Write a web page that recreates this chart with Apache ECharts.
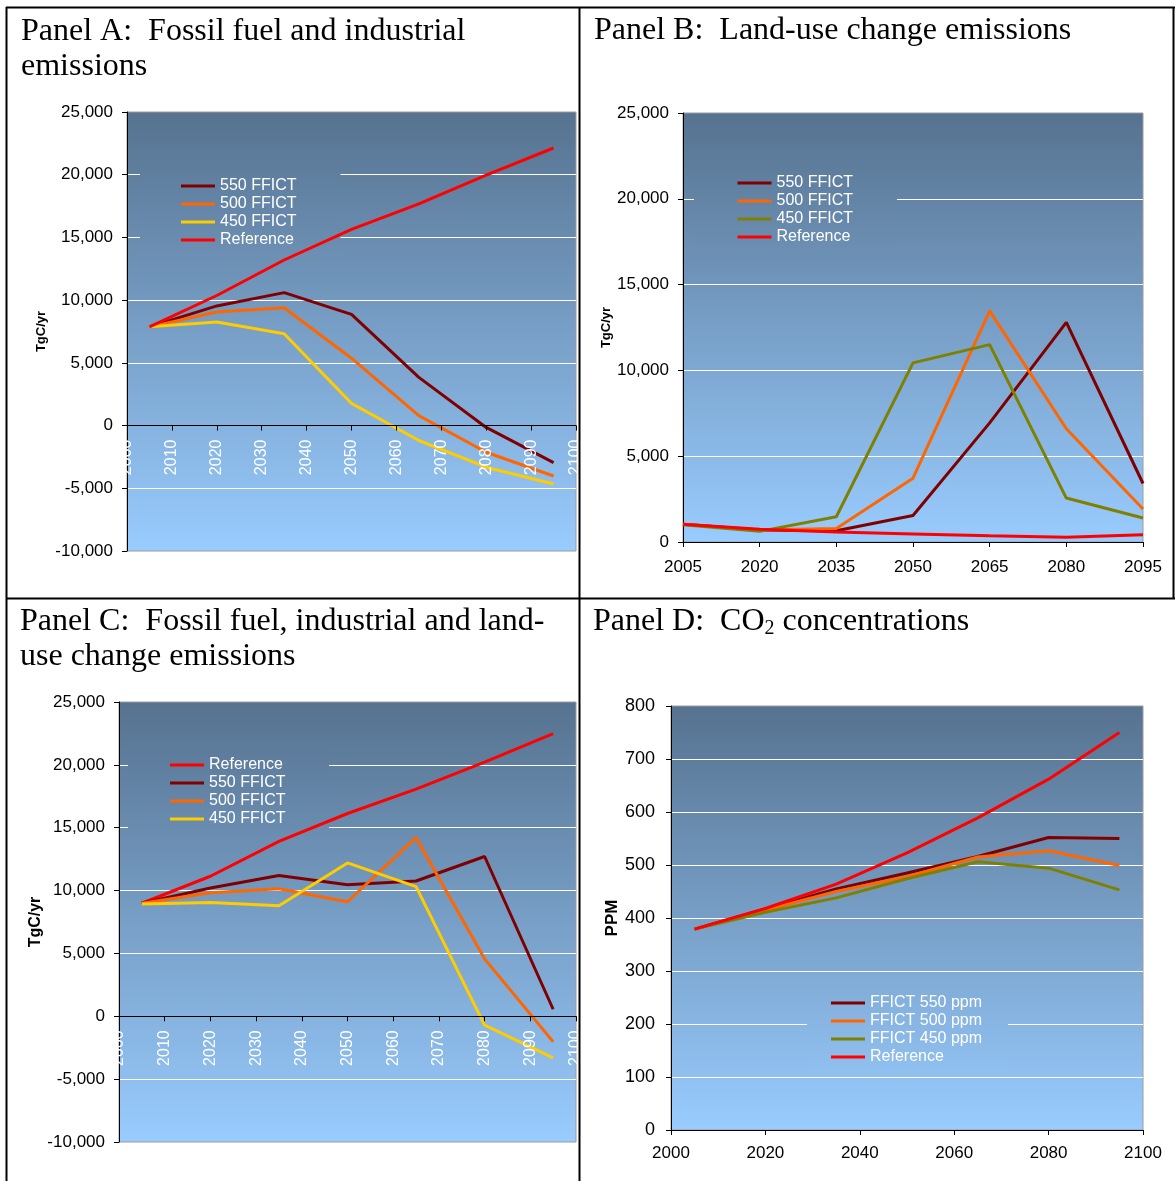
<!DOCTYPE html>
<html><head><meta charset="utf-8">
<script src="https://cdn.jsdelivr.net/npm/echarts@6.0.0/dist/echarts.min.js"></script>
<style>html,body{margin:0;padding:0;background:#fff}#c{width:1175px;height:1181px}</style>
</head><body><div id="c"></div>
<script>
// ---- data ----
const years = [2005, 2020, 2035, 2050, 2065, 2080, 2095];

// Panel A: fossil fuel and industrial emissions (TgC/yr)
const a550 = [7870, 9540, 10600, 8870, 3840, -150, -2960];
const a500 = [7870, 9050, 9390, 5370, 790, -2130, -4020];
const a450 = [7870, 8260, 7320, 1770, -1190, -3320, -4660];
const aRef = [7870, 10370, 13200, 15640, 17680, 19970, 22130];

// Panel B: land-use change emissions (TgC/yr)
const b550 = [1030, 700, 650, 1540, 6940, 12800, 3410];
const b500 = [1030, 700, 780, 3720, 13470, 6600, 1920];
const b450 = [1000, 620, 1470, 10440, 11500, 2560, 1400];
const bRef = [1030, 740, 580, 470, 360, 270, 420];

// Panel C: fossil fuel, industrial and land-use change emissions (TgC/yr)
const cRef = [8990, 11140, 13920, 16130, 18070, 20220, 22490];
const c550 = [8990, 10200, 11200, 10470, 10760, 12710, 560];
const c500 = [9000, 9820, 10140, 9110, 14210, 4570, -2030];
const c450 = [8930, 9050, 8790, 12200, 10320, -710, -3300];

// Panel D: CO2 concentrations (PPM)
const dRef = [379, 418, 464, 523, 589, 662, 750];
const d550 = [379, 417, 455, 485, 516, 552, 550];
const d500 = [379, 415, 450, 478, 515, 527, 499];
const d450 = [379, 411, 438, 474, 506, 494, 453];

const namesABC = ['550 FFICT', '500 FFICT', '450 FFICT', 'Reference'];
const namesC = ['Reference', '550 FFICT', '500 FFICT', '450 FFICT'];
const namesD = ['FFICT 550 ppm', 'FFICT 500 ppm', 'FFICT 450 ppm', 'Reference'];
const titleA = 'Panel A:  Fossil fuel and industrial\nemissions';
const titleB = 'Panel B:  Land-use change emissions';
const titleC = 'Panel C:  Fossil fuel, industrial and land-\nuse change emissions';
const titleD = 'Panel D:  CO{sub|2} concentrations';
const yNameTg = 'TgC/yr';
const yNameD = 'PPM';

// ---- styles ----
const COL = {m: '#800000', o: '#ff6600', y: '#ffcc00', g: '#808000', r: '#ff0000'};
const SANS = 'Liberation Sans, Arial, sans-serif';
const SERIF = 'Liberation Serif, Times New Roman, serif';
const TOP = [86, 114, 143], BOT = [153, 204, 255];
function mix(f) {
  f = Math.max(0, Math.min(1, f));
  const c = TOP.map((t, i) => Math.round(t + (BOT[i] - t) * f));
  return 'rgb(' + c.join(',') + ')';
}
function grad(f1, f2) {
  return {type: 'linear', x: 0, y: 0, x2: 0, y2: 1,
    colorStops: [{offset: 0, color: mix(f1)}, {offset: 1, color: mix(f2)}]};
}
const grids = [
  {left: 127, top: 112, width: 449, height: 439},
  {left: 683, top: 113, width: 460, height: 429},
  {left: 119, top: 702, width: 457, height: 440},
  {left: 671, top: 706, width: 472, height: 424}
];
function fmt(v) {
  const s = Math.abs(v).toString().replace(/\B(?=(\d{3})+(?!\d))/g, ',');
  return (v < 0 ? '-' : '') + s;
}
function yr(v) { return String(v); }

const gridOpts = grids.map(g => Object.assign({}, g, {
  show: true, borderColor: '#9c9c9c', borderWidth: 1,
  backgroundColor: grad(0, 1), containLabel: false
}));

// x axis drawn across the zero line (A and C): offset from grid bottom to y = 0
function xRot(idx, ymin, ymax) {
  const off = grids[idx].height * (0 - ymin) / (ymax - ymin);
  return {type: 'value', gridIndex: idx, min: 2000, max: 2100, interval: 10, z: 3,
    position: 'bottom', offset: -off,
    axisLine: {onZero: false, lineStyle: {color: '#000', width: 1}},
    axisTick: {show: true, length: 5, lineStyle: {color: '#000'}},
    axisLabel: {show: true, rotate: 90, color: '#fff', fontSize: 16, fontFamily: SANS, margin: 14,
      hideOverlap: false, showMinLabel: true, showMaxLabel: true, formatter: yr},
    splitLine: {show: false}};
}
function xPlain(idx, min, max, interval, fs, margin) {
  return {type: 'value', gridIndex: idx, min, max, interval, z: 3,
    axisLine: {onZero: false, lineStyle: {color: '#000', width: 1}},
    axisTick: {show: true, length: 5, lineStyle: {color: '#000'}},
    axisLabel: {color: '#000', fontSize: fs, fontFamily: SANS, margin, formatter: yr},
    splitLine: {show: false}};
}
function yAx(idx, min, max, interval, name, nameGap, nameSize, fs, margin, formatter) {
  return {type: 'value', gridIndex: idx, min, max, interval,
    name, nameLocation: 'middle', nameGap,
    nameTextStyle: {fontFamily: SANS, fontWeight: 'bold', fontSize: nameSize, color: '#000'},
    axisLine: {show: true, onZero: false, lineStyle: {color: '#000', width: 1}},
    axisTick: {show: true, length: 5, lineStyle: {color: '#000'}},
    axisLabel: {color: '#000', fontSize: fs, fontFamily: SANS, margin, formatter},
    splitLine: {show: true, showMinLine: false, showMaxLine: false, lineStyle: {color: '#ffffff', width: 1}}};
}

function mk(name, vals, color, idx) {
  return {type: 'line', name, xAxisIndex: idx, yAxisIndex: idx, z: 2,
    data: years.map((y, i) => [y, vals[i]]),
    showSymbol: false, symbol: 'none', animation: false,
    lineStyle: {width: 3, color}, itemStyle: {color}};
}

function leg(idx, names, colors, left, top, padL, padR) {
  const g = grids[idx];
  const padT = 8, padB = 6, h = padT + 18 * names.length + padB;
  return {orient: 'vertical', left, top, padding: [padT, padR, padB, padL], z: 1,
    itemGap: 0, itemWidth: 34, itemHeight: 3, icon: 'rect', selectedMode: false,
    backgroundColor: grad((top - g.top) / g.height, (top + h - g.top) / g.height),
    textStyle: {color: '#fff', fontSize: 16, fontFamily: SANS, lineHeight: 18},
    data: names.map((n, i) => ({name: n, itemStyle: {color: colors[i]}, lineStyle: {color: colors[i]}}))};
}

function ttl(text, left, top) {
  return {text, left, top, padding: 0,
    textStyle: {fontFamily: SERIF, fontSize: 32, fontWeight: 'normal', color: '#000', lineHeight: 35,
      rich: {sub: {fontFamily: SERIF, fontSize: 20, lineHeight: 20, verticalAlign: 'bottom', color: '#000'}}}};
}

const bl = {stroke: '#000', lineWidth: 2};
const option = {
  animation: false,
  backgroundColor: '#fff',
  title: [ttl(titleA, 21, 14), ttl(titleB, 594, 13), ttl(titleC, 20, 604), ttl(titleD, 593, 604)],
  grid: gridOpts,
  xAxis: [xRot(0, -10000, 25000), xPlain(1, 2005, 2095, 15, 17, 17), xRot(2, -10000, 25000), xPlain(3, 2000, 2100, 20, 17, 15)],
  yAxis: [
    yAx(0, -10000, 25000, 5000, yNameTg, 79, 13, 17, 14, fmt),
    yAx(1, 0, 25000, 5000, yNameTg, 65, 13, 17, 14, fmt),
    yAx(2, -10000, 25000, 5000, yNameTg, 71, 16, 17, 14, fmt),
    yAx(3, 0, 800, 100, yNameD, 49, 17, 18, 16, null)
  ],
  legend: [
    leg(0, namesABC, [COL.m, COL.o, COL.y, COL.r], 140, 169, 41, 44),
    leg(1, namesABC, [COL.m, COL.o, COL.g, COL.r], 694, 166, 43.5, 44),
    leg(2, namesC, [COL.r, COL.m, COL.o, COL.y], 128, 748, 42, 43.5),
    leg(3, namesD, [COL.m, COL.o, COL.g, COL.r], 807, 986, 24, 26)
  ],
  series: [
    mk('550 FFICT', a550, COL.m, 0), mk('500 FFICT', a500, COL.o, 0),
    mk('450 FFICT', a450, COL.y, 0), mk('Reference', aRef, COL.r, 0),
    mk('550 FFICT', b550, COL.m, 1), mk('500 FFICT', b500, COL.o, 1),
    mk('450 FFICT', b450, COL.g, 1), mk('Reference', bRef, COL.r, 1),
    mk('Reference', cRef, COL.r, 2), mk('550 FFICT', c550, COL.m, 2),
    mk('500 FFICT', c500, COL.o, 2), mk('450 FFICT', c450, COL.y, 2),
    mk('FFICT 550 ppm', d550, COL.m, 3), mk('FFICT 500 ppm', d500, COL.o, 3),
    mk('FFICT 450 ppm', d450, COL.g, 3), mk('Reference', dRef, COL.r, 3)
  ],
  graphic: [
    {type: 'line', z: 100, shape: {x1: 6.5, y1: 7, x2: 6.5, y2: 1181}, style: bl},
    {type: 'line', z: 100, shape: {x1: 6, y1: 7.5, x2: 1175, y2: 7.5}, style: bl},
    {type: 'line', z: 100, shape: {x1: 579.5, y1: 7, x2: 579.5, y2: 1181}, style: bl},
    {type: 'line', z: 100, shape: {x1: 6, y1: 598.5, x2: 1175, y2: 598.5}, style: bl},
    {type: 'line', z: 100, shape: {x1: 1173.5, y1: 7, x2: 1173.5, y2: 599}, style: bl}
  ]
};
const chart = echarts.init(document.getElementById('c'), null, {renderer: 'canvas'});
chart.setOption(option);
</script>
</body></html>
